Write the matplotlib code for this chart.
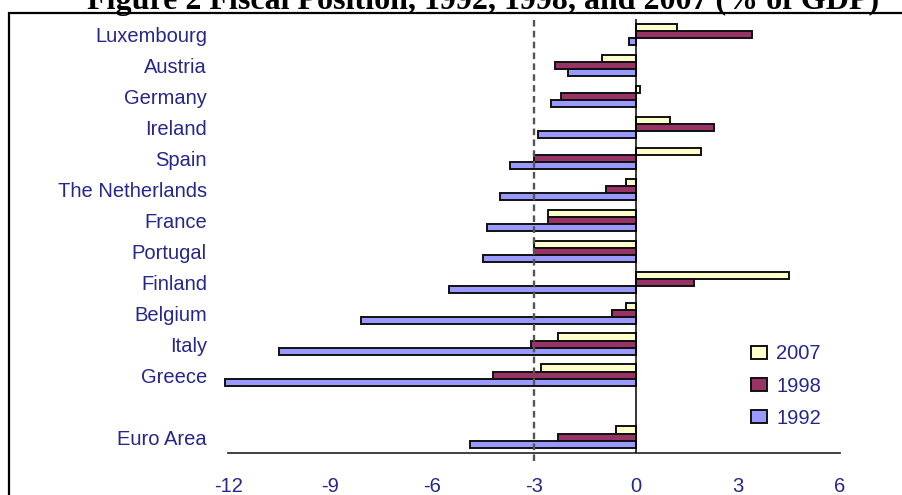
import matplotlib.pyplot as plt
import numpy as np
from matplotlib.patches import Rectangle

countries = ["Luxembourg", "Austria", "Germany", "Ireland", "Spain", "The Netherlands",
             "France", "Portugal", "Finland", "Belgium", "Italy", "Greece", "", "Euro Area"]
fiscal_2007 = [1.2, -1.0, 0.1, 1.0, 1.9, -0.3, -2.6, -3.0, 4.5, -0.3, -2.3, -2.8, np.nan, -0.6]
fiscal_1998 = [3.4, -2.4, -2.2, 2.3, -3.0, -0.9, -2.6, -3.0, 1.7, -0.7, -3.1, -4.2, np.nan, -2.3]
fiscal_1992 = [-0.2, -2.0, -2.5, -2.9, -3.7, -4.0, -4.4, -4.5, -5.5, -8.1, -10.5, -12.1, np.nan, -4.9]
deficit_limit = -3
xticks = [-12, -9, -6, -3, 0, 3, 6]

text_blue = '#26268C'
plt.rcParams['font.family'] = ['Liberation Sans', 'DejaVu Sans']

fig = plt.figure(figsize=(9.02, 4.95), dpi=100)
ax = fig.add_axes([0.2533, 0.0855, 0.678, 0.8761])

y = np.arange(len(countries))
h = 0.232
series = [("2007", fiscal_2007, '#FFFFCC', -h),
          ("1998", fiscal_1998, '#993366', 0),
          ("1992", fiscal_1992, '#9999FF', h)]
for label, vals, col, off in series:
    ax.barh(y + off, vals, height=h, color=col, edgecolor='#111111', linewidth=1.4,
            label=label, zorder=2, clip_on=False)

ax.axvline(0, color='black', lw=1.1, zorder=3)
ax.axvline(deficit_limit, ymin=-0.02, ymax=1, color='#555555', lw=1.7, dashes=(2.8, 1.8),
           clip_on=False, zorder=4)

ax.set_xlim(-12, 6)
ax.set_ylim(len(countries) - 0.5, -0.5)
ax.set_yticks(y)
ax.set_yticklabels(countries)
ax.set_xticks(xticks)
ax.set_xticklabels([str(t) for t in xticks])
ax.tick_params(axis='y', length=0, pad=15.5, labelsize=14.5, labelcolor=text_blue)
ax.tick_params(axis='x', length=0, pad=17.5, labelsize=14.5, labelcolor=text_blue)
for s in ['top', 'right', 'left']:
    ax.spines[s].set_visible(False)
ax.spines['bottom'].set_color('#333333')
ax.spines['bottom'].set_linewidth(1.3)

leg = ax.legend(loc='center left', bbox_to_anchor=(0.8326, 0.2202), bbox_transform=fig.transFigure,
                frameon=False, fontsize=14.5, labelcolor=text_blue, borderpad=0, borderaxespad=0,
                handlelength=0.8, handleheight=0.6, handletextpad=0.45, labelspacing=0.65)

# outer chart border, cut off at right and bottom
fig.add_artist(Rectangle((0.0103, -0.05), 1.2, 1.05 - 13.3 / 495, transform=fig.transFigure,
                         fill=False, edgecolor='black', linewidth=1.6))

fig.text(0.535, 1 - 9 / 495, "Figure 2 Fiscal Position, 1992, 1998, and 2007 (% of GDP)",
         ha='center', va='baseline', fontsize=23, fontweight='bold', family='Liberation Serif')

plt.savefig("out.png", dpi=100)
